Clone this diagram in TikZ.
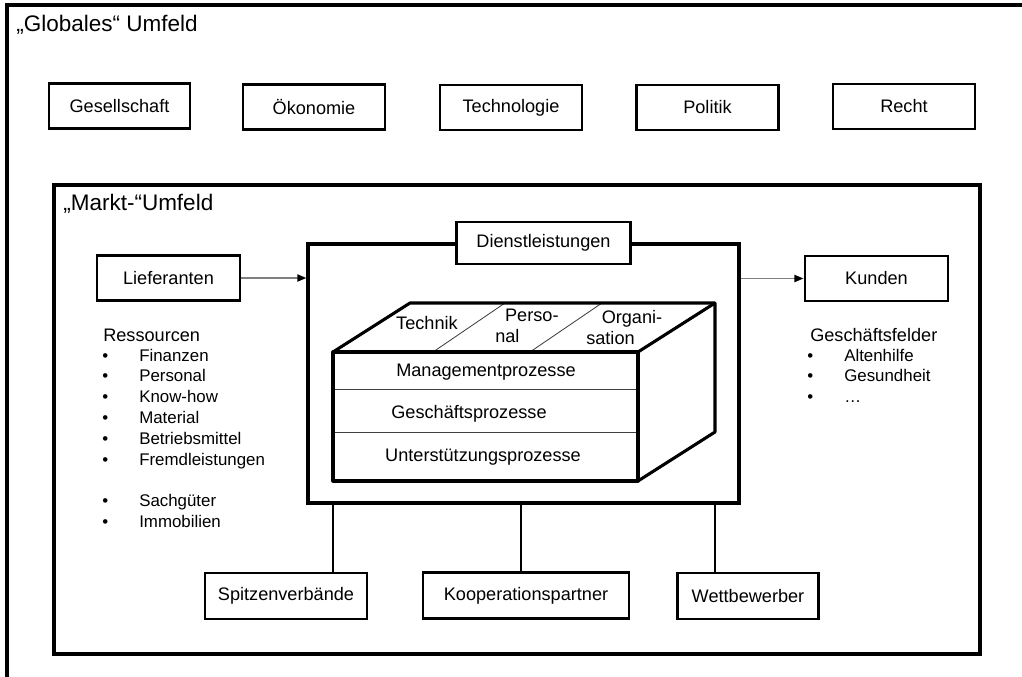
\documentclass[tikz,border=0pt]{standalone}
\usepackage{fontspec}
\setmainfont{Liberation Sans}
\usetikzlibrary{arrows.meta}

\newcommand\pxu{0.025cm}
\newcommand\boxfont{\fontsize{12.9}{15.2}\selectfont}
\newcommand\itemfont{\fontsize{12}{14.5}\selectfont}
\newcommand\titlefont{\fontsize{16}{19}\selectfont}
\newcommand\bul{\makebox[0pt][r]{\textbullet\hspace{22pt}}}

\tikzset{
  frameline/.style={line width=2.2pt},
  box/.style={draw, line width=2.1pt, fill=white, inner sep=0pt,
    minimum height=45*\pxu, font=\boxfont},
  title/.style={inner sep=0pt, anchor=west, font=\titlefont},
  proc/.style={inner sep=0pt, font=\boxfont},
  listhead/.style={anchor=base west, inner sep=0pt, font=\boxfont},
  listitem/.style={anchor=base west, inner sep=0pt, font=\itemfont},
  feed/.style={draw=gray, line width=1.4pt,
    -{Triangle[length=6.5pt,width=5pt,color=black]}},
  conn/.style={line width=1.2pt},
  cube/.style={line width=2.2pt, line join=round},
  layer/.style={line width=0.6pt, draw=black!75},
}

\begin{document}
\begin{tikzpicture}[x=\pxu,y=-\pxu]
  \useasboundingbox (0,0) rectangle (1022,677);

  % globales Umfeld
  \draw[frameline] (7,677) -- (7,5) -- (1022,5);
  \node[title] (global) at (16,25) {„Globales“ Umfeld};
  \node[box, minimum width=141*\pxu] (gesell) at (119.5,106) {Gesellschaft};
  \node[box, minimum width=142*\pxu] (oeko) at (314,107) {Ökonomie};
  \node[box, minimum width=142*\pxu] (techno) at (511,107.5) {Technologie};
  \node[box, minimum width=142*\pxu] (politik) at (707.5,107.5) {Politik};
  \node[box, minimum width=142*\pxu] (recht) at (904,106.5) {Recht};

  % Markt-Umfeld
  \node[draw, frameline, minimum width=926*\pxu, minimum height=469*\pxu] (markt) at (517,419.5) {};
  \node[title] (marktlbl) at (63,204) {„Markt-“Umfeld};

  \node[draw, frameline, minimum width=431*\pxu, minimum height=259*\pxu] (dlrahmen) at (523.5,373.5) {};
  \node[box, minimum width=174*\pxu, minimum height=42*\pxu] (dl) at (543.5,243) {Dienstleistungen};

  \node[box, minimum width=143*\pxu] (lief) at (168.5,278) {Lieferanten};
  \node[box, minimum width=143*\pxu] (kunden) at (876.5,278.5) {Kunden};
  \draw[feed] (lief.east) -- (lief -| dlrahmen.west);
  \draw[feed] (dlrahmen.east |- kunden) -- (kunden.west);

  % Prozess-Wuerfel
  \coordinate (fnw) at (333,352);
  \coordinate (fse) at (638,481);
  \coordinate (fne) at (638,352);
  \coordinate (fsw) at (333,481);
  \coordinate (bnw) at (410,303);
  \coordinate (bne) at (715,303);
  \coordinate (bse) at (715,432);
  \draw[layer] (333,389) -- (638,389);
  \draw[layer] (333,432) -- (638,432);
  \draw[layer] (433,352) -- (505,303);
  \draw[layer] (530,352) -- (602,303);
  \draw[cube] (fnw) rectangle (fse);
  \draw[cube] (fnw) -- (bnw) -- (bne) -- (bse) -- (fse);
  \draw[cube] (fne) -- (bne);

  \node[proc] (technik) at (427,323) {Technik};
  \node[proc, anchor=west, align=left] (personal) at (495,326) {\hspace*{7pt}Perso-\\nal};
  \node[proc, anchor=west, align=left] (orga) at (586,327.5) {\hspace*{11pt}Organi-\\sation};
  \node[proc] (mgmt) at (486,372) {Managementprozesse};
  \node[proc] (gesch) at (469,414) {Geschäftsprozesse};
  \node[proc] (unterst) at (483,457) {Unterstützungsprozesse};

  % Listen
  \node[listhead] (res) at (103,341) {Ressourcen};
  \foreach \t/\i in {Finanzen/1,Personal/2,Know-how/3,Material/4,Betriebsmittel/5,
      Fremdleistungen/6,Sachgüter/8,Immobilien/9}
    \node[listitem] (res-\i) at (139,340.2+20.8*\i) {\bul\t};

  \node[listhead] (felder) at (810,341) {Geschäftsfelder};
  \foreach \t/\i in {Altenhilfe/1,Gesundheit/2,…/3}
    \node[listitem] (feld-\i) at (844,340.2+20.8*\i) {\bul\t};

  % Umfeld-Akteure
  \node[box, minimum width=162*\pxu, minimum height=46*\pxu] (spitzen) at (286,596) {Spitzenverbände};
  \node[box, minimum width=206*\pxu, minimum height=46*\pxu] (koop) at (526,595.5) {Kooperationspartner};
  \node[box, minimum width=141*\pxu, minimum height=46*\pxu] (wett) at (748,596) {Wettbewerber};
  \draw[conn] (fsw |- dlrahmen.south) -- (fsw |- spitzen.north);
  \draw[conn] ([xshift=-5*\pxu]dlrahmen.south -| koop) -- ([xshift=-5*\pxu]koop.north);
  \draw[conn] (bse |- dlrahmen.south) -- (bse |- wett.north);
\end{tikzpicture}
\end{document}
